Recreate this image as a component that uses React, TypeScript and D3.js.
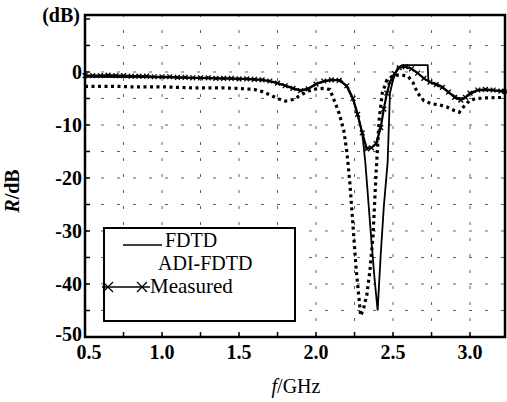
import * as d3 from "d3";

// frequency (GHz) and reflection R (dB)
const measuredFreq = [0.5, 0.55, 0.6, 0.65, 0.7, 0.75, 0.8, 0.85, 0.9, 0.95, 1.0, 1.05, 1.1, 1.15, 1.2, 1.25, 1.3, 1.35, 1.4, 1.45, 1.5, 1.55, 1.6, 1.65, 1.7, 1.75, 1.8, 1.85, 1.9, 1.95, 2.0, 2.05, 2.1, 2.15, 2.2, 2.24, 2.27, 2.3, 2.33, 2.36, 2.39, 2.42, 2.44, 2.46, 2.48, 2.51, 2.54, 2.58, 2.62, 2.66, 2.7, 2.74, 2.78, 2.82, 2.86, 2.9, 2.94, 2.97, 3.0, 3.05, 3.1, 3.15, 3.2, 3.23];
const measuredR = [-0.7, -0.7, -0.7, -0.6, -0.7, -0.7, -0.8, -0.8, -0.8, -0.9, -0.9, -0.9, -1.0, -1.0, -1.1, -1.1, -1.1, -1.2, -1.2, -1.2, -1.3, -1.3, -1.4, -1.5, -1.7, -2.1, -2.6, -3.1, -3.5, -3.2, -2.3, -1.7, -1.5, -1.6, -2.6, -5.0, -8.0, -11.5, -14.5, -14.3, -13.5, -10.5, -7.0, -4.0, -1.9, -0.3, 0.8, 1.0, 0.6, -0.2, -1.2, -1.9, -2.4, -2.9, -3.8, -4.8, -5.3, -4.8, -4.0, -3.4, -3.3, -3.4, -3.6, -3.7];

const fdtdFreq = [0.5, 1.0, 1.5, 1.65, 1.75, 1.85, 1.9, 1.95, 2.0, 2.1, 2.16, 2.2, 2.24, 2.27, 2.3, 2.32, 2.34, 2.36, 2.38, 2.4, 2.42, 2.44, 2.465, 2.48, 2.5, 2.53, 2.56, 2.62, 2.68, 2.725, 2.73, 2.78, 2.82, 2.87, 2.92, 2.96, 3.0, 3.05, 3.1, 3.15, 3.23];
const fdtdR = [-0.9, -1.0, -1.3, -1.5, -2.1, -3.0, -3.5, -3.1, -2.2, -1.5, -1.5, -2.8, -5.2, -8.0, -11.5, -17, -24.5, -32, -39, -45, -34.5, -25.5, -17, -4, -1.5, 0.8, 1.3, 1.3, 1.3, 1.3, -1.8, -2.2, -2.8, -4.0, -4.9, -5.0, -4.2, -3.5, -3.4, -3.5, -3.6];

const adiFreq = [0.5, 0.6, 0.7, 0.8, 0.9, 1.0, 1.1, 1.2, 1.3, 1.4, 1.5, 1.6, 1.65, 1.7, 1.75, 1.8, 1.85, 1.9, 1.95, 2.0, 2.05, 2.09, 2.12, 2.15, 2.18, 2.2, 2.22, 2.24, 2.26, 2.28, 2.29, 2.31, 2.33, 2.35, 2.37, 2.39, 2.41, 2.43, 2.46, 2.5, 2.55, 2.6, 2.63, 2.66, 2.7, 2.75, 2.8, 2.85, 2.9, 2.93, 2.96, 3.0, 3.05, 3.1, 3.2, 3.23];
const adiR = [-2.7, -2.7, -2.7, -2.8, -2.8, -2.8, -2.9, -3.0, -3.0, -3.0, -3.1, -3.3, -3.7, -4.3, -5.0, -5.5, -5.2, -4.4, -3.6, -3.2, -3.1, -3.3, -5.5, -7.8, -11, -15, -21, -29, -37, -43, -46, -44.5, -42, -37.5, -31, -19, -9, -4, -1.5, -0.7, -0.5, -0.9, -2, -4, -5.4, -6.0, -6.2, -6.6, -7.3, -7.6, -6.5, -5.3, -5.0, -4.9, -4.8, -4.7];

const xTicks = [0.5, 1.0, 1.5, 2.0, 2.5, 3.0];
const xTickLabels = ["0.5", "1.0", "1.5", "2.0", "2.5", "3.0"];
const yTicks = [0, -10, -20, -30, -40, -50];
const yTickLabels = ["0", "-10", "-20", "-30", "-40", "-50"];

const W = 507;
const H = 402;
const left = 85, right = 505, top = 15, bottom = 337;
const serif = "'Liberation Serif', 'DejaVu Serif', serif";

const App = () => {
  const x = d3.scaleLinear().domain([0.5, 3.227]).range([left, right]);
  const y = d3.scaleLinear().domain([-50, 10.75]).range([bottom, top]);

  const path = (fs: number[], rs: number[]) =>
    d3
      .line<number>()
      .x((d) => x(d))
      .y((_, i) => y(rs[i]))(fs) || "";

  const minorX = d3.range(0.75, 3.2, 0.25);
  const minorY = d3.range(-45, 10, 5);

  const cross = (cx: number, cy: number, s: number, key: string) => (
    <path
      key={key}
      d={`M${cx - s},${cy - s}L${cx + s},${cy + s}M${cx - s},${cy + s}L${cx + s},${cy - s}`}
      stroke="#000"
      strokeWidth={1.3}
      fill="none"
    />
  );

  return (
    <svg
      width={W}
      height={H}
      style={{ position: "absolute", left: 0, top: 0, background: "#fff", fontFamily: serif }}
    >
      {/* dashed grid */}
      <g stroke="#222" strokeWidth={1} strokeDasharray="3,13" opacity={0.7}>
        {minorX.map((v) => (
          <line key={"gx" + v} x1={x(v)} x2={x(v)} y1={bottom} y2={top} />
        ))}
        {minorY.map((v) => (
          <line key={"gy" + v} x1={left} x2={right} y1={y(v)} y2={y(v)} />
        ))}
      </g>

      {/* inward ticks */}
      <g stroke="#000" strokeWidth={1.5}>
        {d3.range(0.5, 3.23, 0.25).map((v) => (
          <line key={"tx" + v} x1={x(v)} x2={x(v)} y1={bottom} y2={bottom - 5} />
        ))}
        {d3.range(-50, 11, 5).map((v) => (
          <line key={"ty" + v} x1={left} x2={left + 5} y1={y(v)} y2={y(v)} />
        ))}
      </g>

      {/* curves */}
      <path d={path(adiFreq, adiR)} fill="none" stroke="#000" strokeWidth={3.2} strokeDasharray="3,3.5" />
      <path d={path(fdtdFreq, fdtdR)} fill="none" stroke="#000" strokeWidth={1.8} />
      <path d={path(measuredFreq, measuredR)} fill="none" stroke="#000" strokeWidth={2.2} />
      {measuredFreq.map((f, i) => cross(x(f), y(measuredR[i]), 2.4, "m" + i))}

      {/* frame */}
      <rect x={left} y={top} width={right - left} height={bottom - top} fill="none" stroke="#000" strokeWidth={2.5} />

      {/* tick labels */}
      {xTicks.map((v, i) => (
        <text key={"xl" + v} x={x(v) + (i === 0 ? 4 : 0)} y={359} textAnchor="middle" fontSize={20} fontWeight="bold">
          {xTickLabels[i]}
        </text>
      ))}
      {yTicks.map((v, i) => (
        <text key={"yl" + v} x={82} y={y(v) + (i === 5 ? 4 : 7)} textAnchor="end" fontSize={20} fontWeight="bold">
          {yTickLabels[i]}
        </text>
      ))}
      <text x={80} y={22} textAnchor="end" fontSize={20} fontWeight="bold">(dB)</text>

      {/* axis titles */}
      <text x={296} y={393} textAnchor="middle" fontSize={20}>
        <tspan fontStyle="italic">f</tspan>/GHz
      </text>
      <text transform="translate(19,191) rotate(-90)" textAnchor="middle" fontSize={20} fontWeight="bold">
        <tspan fontStyle="italic">R</tspan>/dB
      </text>

      {/* legend */}
      <rect x={104} y={228} width={191} height={93} fill="#fff" stroke="#000" strokeWidth={2} />
      <line x1={123} x2={162} y1={245} y2={245} stroke="#000" strokeWidth={1.5} />
      <text x={165} y={247} fontSize={20}>FDTD</text>
      <text x={158} y={270} fontSize={20}>ADI-FDTD</text>
      <line x1={102} x2={150} y1={287} y2={287} stroke="#000" strokeWidth={1.5} />
      {cross(108, 287, 5, "lg1")}
      {cross(142, 287, 5, "lg2")}
      <text x={150} y={293} fontSize={21}>Measured</text>
    </svg>
  );
};

export default App;
